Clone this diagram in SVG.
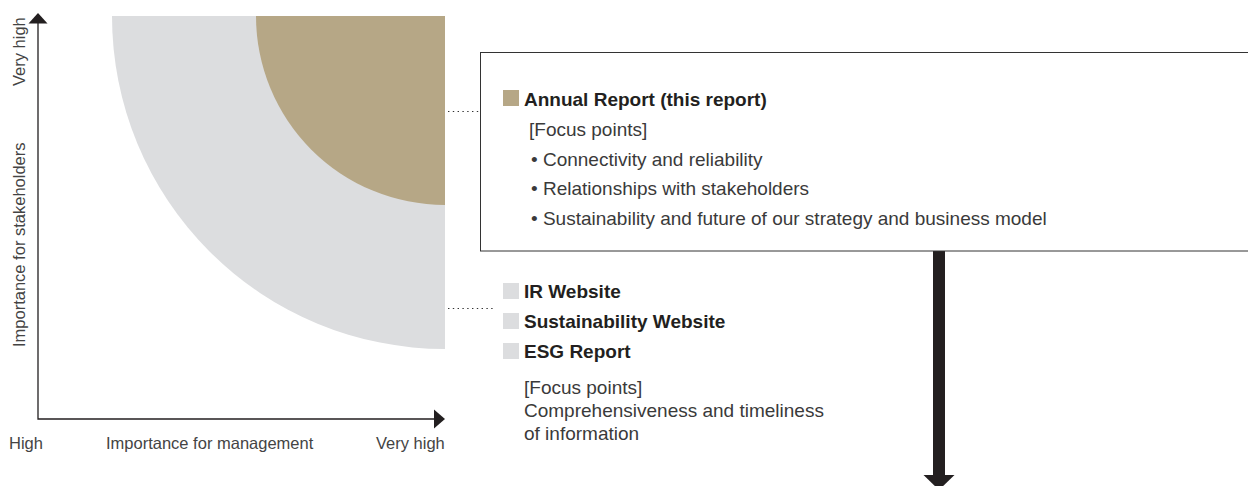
<svg xmlns="http://www.w3.org/2000/svg" width="1248" height="486" viewBox="0 0 1248 486">
  <style>
    .axis { stroke: #231f20; stroke-width: 1.3; fill: none; }
    .head { fill: #231f20; }
    .axlbl { font-family: "Liberation Sans", Arial, sans-serif; font-size: 16.5px; fill: #444; }
    .title { font-family: "Liberation Sans", Arial, sans-serif; font-size: 19px; font-weight: bold; fill: #231f20; }
    .body { font-family: "Liberation Sans", Arial, sans-serif; font-size: 19px; fill: #3a3a3a; }
    .leader { stroke: #333; stroke-width: 1.2; stroke-dasharray: 1.4 3.4; fill: none; }
    .box { fill: #fff; stroke: #333; stroke-width: 1; }
    .gold { fill: #b6a786; }
    .grey { fill: #dcdddf; }
  </style>

  <!-- bands of the matrix: quarter circles around the top-right corner -->
  <g id="band-outer">
    <path class="grey" d="M445 16 L112 16 A333 333 0 0 0 445 349 Z"/>
  </g>
  <g id="band-inner">
    <path class="gold" d="M445 16 L256 16 A189 189 0 0 0 445 205 Z"/>
  </g>

  <!-- axes -->
  <g id="axes">
    <path class="axis" d="M38 22 V419 H436"/>
    <polygon class="head" points="38,13 47.5,23.5 28.5,23.5"/>
    <polygon class="head" points="445,419 434,409.5 434,428.5"/>
    <text class="axlbl" transform="translate(24.5,86) rotate(-90)">Very high</text>
    <text class="axlbl" transform="translate(24.5,347) rotate(-90)">Importance for stakeholders</text>
    <text class="axlbl" x="9" y="449">High</text>
    <text class="axlbl" x="106" y="449">Importance for management</text>
    <text class="axlbl" x="376" y="449">Very high</text>
  </g>

  <!-- connectors -->
  <g id="connectors">
    <line class="leader" x1="448" y1="111.5" x2="479" y2="111.5"/>
    <line class="leader" x1="448" y1="308.5" x2="494" y2="308.5"/>
    <rect x="933" y="251" width="12" height="225" fill="#231f20"/>
    <polygon points="923.5,475 954.5,475 939,490" fill="#231f20"/>
  </g>

  <!-- annual report panel -->
  <g id="annual-report">
    <rect class="box" x="480.5" y="52.5" width="800" height="198.5"/>
    <rect class="gold" x="503" y="90" width="16" height="16"/>
    <text class="title" x="524" y="106">Annual Report (this report)</text>
    <text class="body" x="529" y="136">[Focus points]</text>
    <text class="body" x="531" y="166">• Connectivity and reliability</text>
    <text class="body" x="531" y="195">• Relationships with stakeholders</text>
    <text class="body" x="531" y="225">• Sustainability and future of our strategy and business model</text>
  </g>

  <!-- web and ESG channels -->
  <g id="web-channels">
    <rect class="grey" x="503" y="283" width="16" height="16"/>
    <text class="title" x="524" y="298">IR Website</text>
    <rect class="grey" x="503" y="313" width="16" height="16"/>
    <text class="title" x="524" y="328">Sustainability Website</text>
    <rect class="grey" x="503" y="343" width="16" height="16"/>
    <text class="title" x="524" y="358">ESG Report</text>
    <text class="body" x="524" y="394">[Focus points]</text>
    <text class="body" x="524" y="417">Comprehensiveness and timeliness</text>
    <text class="body" x="524" y="440">of information</text>
  </g>
</svg>
